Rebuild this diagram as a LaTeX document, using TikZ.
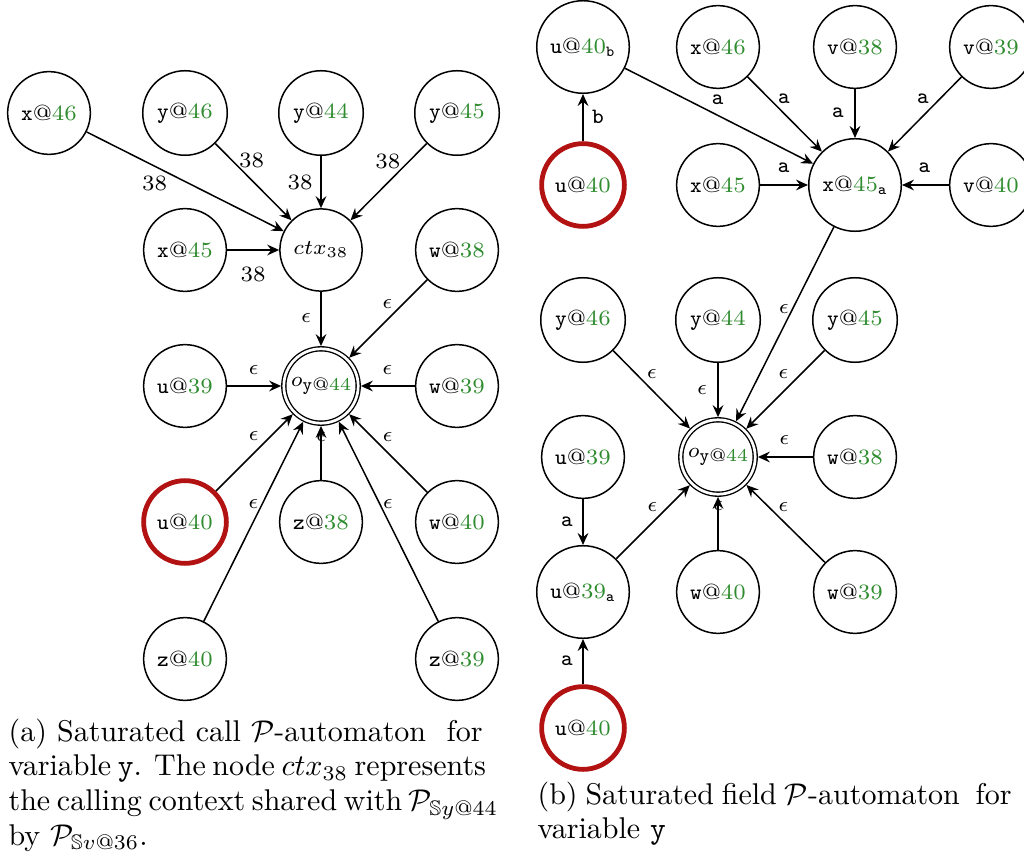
\documentclass[tikz,border=0pt]{standalone}
\usepackage{amsmath,amssymb}
\usetikzlibrary{arrows.meta}
\definecolor{numgreen}{RGB}{46,139,46}
\definecolor{hotred}{RGB}{178,18,18}
\newcommand{\smallfnt}{\fontsize{7.3}{8.8}\selectfont}
\newcommand{\capfnt}{\fontsize{10}{11.6}\selectfont}
\newcommand{\loc}[2]{\texttt{#1}@\textcolor{numgreen}{#2}}
\newcommand{\locsub}[3]{\texttt{#1}@\textcolor{numgreen}{#2}$_{\texttt{#3}}$}
\newcommand{\outnode}{$o$\raisebox{-1.6pt}{\fontsize{6}{7}\selectfont\texttt{y}@\textcolor{numgreen}{44}}}
\newcommand{\capline}[1]{\hbox to 158pt{#1}}
\tikzset{
  st/.style={circle, draw, line width=0.5pt, minimum size=27pt, inner sep=3.2pt, font=\smallfnt},
  hot/.style={st, draw=hotred, line width=1.6pt},
  acc/.style={circle, draw, double, double distance=0.9pt, line width=0.45pt,
              minimum size=24.8pt, inner sep=1pt, outer sep=0.9pt, font=\smallfnt},
  lbl/.style={font=\smallfnt, inner sep=0pt},
  tr/.style={-{Stealth[length=4pt,width=3.6pt,inset=1.4pt]}, line width=0.5pt},
  capt/.style={inner sep=0pt, font=\capfnt, anchor=base west},
}
\begin{document}
\begin{tikzpicture}[x=0.33333pt, y=-0.33333pt]
\useasboundingbox (0,0) rectangle (1024,861);

% ---------- (a) call automaton ----------
\node[st]  (x46L) at (49,113)  {\loc{x}{46}};
\node[st]  (y46L) at (185,113) {\loc{y}{46}};
\node[st]  (y44L) at (321,113) {\loc{y}{44}};
\node[st]  (y45L) at (457,113) {\loc{y}{45}};
\node[st]  (x45L) at (185,250) {\loc{x}{45}};
\node[st]  (ctx)  at (321,250) {$ctx_{38}$};
\node[st]  (w38L) at (457,250) {\loc{w}{38}};
\node[st]  (u39L) at (185,386) {\loc{u}{39}};
\node[acc] (oL)   at (321,386) {\outnode};
\node[st]  (w39L) at (457,386) {\loc{w}{39}};
\node[hot] (u40L) at (185,522) {\loc{u}{40}};
\node[st]  (z38L) at (321,522) {\loc{z}{38}};
\node[st]  (w40L) at (457,522) {\loc{w}{40}};
\node[st]  (z40L) at (185,659) {\loc{z}{40}};
\node[st]  (z39L) at (457,659) {\loc{z}{39}};

\draw[tr] (x46L) -- node[lbl, pos=.38, shift={(-6.9,13.6)}] {38} (ctx);
\draw[tr] (y46L) -- node[lbl, pos=.35, shift={(9.7,-9.7)}] {38} (ctx);
\draw[tr] (y44L) -- node[lbl, pos=.51, shift={(-21,0)}] {38} (ctx);
\draw[tr] (y45L) -- node[lbl, pos=.37, shift={(-10.7,-10.7)}] {38} (ctx);
\draw[tr] (x45L) -- node[lbl, pos=.5, shift={(0,24)}] {38} (ctx);

\draw[tr] (ctx)  -- node[lbl, pos=.49, shift={(-15,0)}] {$\epsilon$} (oL);
\draw[tr] (w38L) -- node[lbl, pos=.41, shift={(-8,-8)}] {$\epsilon$} (oL);
\draw[tr] (u39L) -- node[lbl, pos=.49, shift={(0,-16)}] {$\epsilon$} (oL);
\draw[tr] (w39L) -- node[lbl, pos=.51, shift={(0,-16)}] {$\epsilon$} (oL);
\draw[tr] (u40L) -- node[lbl, pos=.60, shift={(-8.5,-8.5)}] {$\epsilon$} (oL);
\draw[tr] (z40L) -- node[lbl, pos=.57, shift={(-7,-3.5)}] {$\epsilon$} (oL);
\draw[tr] (z38L) -- node[lbl, pos=.79] {$\epsilon$} (oL);
\draw[tr] (w40L) -- node[lbl, pos=.61, shift={(8,-8)}] {$\epsilon$} (oL);
\draw[tr] (z39L) -- node[lbl, pos=.57, shift={(6.2,-3.1)}] {$\epsilon$} (oL);

% ---------- (b) field automaton ----------
\node[st]  (u40b) at (583,47)  {\locsub{u}{40}{b}};
\node[st]  (x46R) at (718,47)  {\loc{x}{46}};
\node[st]  (v38)  at (855,47)  {\loc{v}{38}};
\node[st]  (v39)  at (991,47)  {\loc{v}{39}};
\node[hot] (u40T) at (583,185) {\loc{u}{40}};
\node[st]  (x45R) at (718,185) {\loc{x}{45}};
\node[st]  (x45a) at (855,185) {\locsub{x}{45}{a}};
\node[st]  (v40)  at (991,185) {\loc{v}{40}};
\node[st]  (y46R) at (583,320) {\loc{y}{46}};
\node[st]  (y44R) at (718,320) {\loc{y}{44}};
\node[st]  (y45R) at (855,320) {\loc{y}{45}};
\node[st]  (u39R) at (583,457) {\loc{u}{39}};
\node[acc] (oR)   at (718,457) {\outnode};
\node[st]  (w38R) at (855,457) {\loc{w}{38}};
\node[st]  (u39a) at (583,592) {\locsub{u}{39}{a}};
\node[st]  (w40R) at (718,592) {\loc{w}{40}};
\node[st]  (w39R) at (855,592) {\loc{w}{39}};
\node[hot] (u40B) at (583,728) {\loc{u}{40}};

\draw[tr] (u40T) -- node[lbl, pos=.51, shift={(15,0)}] {\texttt{b}} (u40b);
\draw[tr] (u40b) -- node[lbl, pos=.46, shift={(6.2,-12.3)}] {\texttt{a}} (x45a);
\draw[tr] (x46R) -- node[lbl, pos=.39, shift={(7.3,-7.1)}] {\texttt{a}} (x45a);
\draw[tr] (v38)  -- node[lbl, pos=.48, shift={(-17,0)}] {\texttt{a}} (x45a);
\draw[tr] (v39)  -- node[lbl, pos=.41, shift={(-8.5,-8.3)}] {\texttt{a}} (x45a);
\draw[tr] (x45R) -- node[lbl, pos=.49, shift={(0,-17)}] {\texttt{a}} (x45a);
\draw[tr] (v40)  -- node[lbl, pos=.52, shift={(0,-17)}] {\texttt{a}} (x45a);

\draw[tr] (x45a) -- node[lbl, pos=.44, shift={(-6.8,-3.5)}] {$\epsilon$} (oR);
\draw[tr] (y46R) -- node[lbl, pos=.40, shift={(8,-7.8)}] {$\epsilon$} (oR);
\draw[tr] (y44R) -- node[lbl, pos=.50, shift={(-16,0)}] {$\epsilon$} (oR);
\draw[tr] (y45R) -- node[lbl, pos=.41, shift={(-9.1,-8.8)}] {$\epsilon$} (oR);
\draw[tr] (w38R) -- node[lbl, pos=.52, shift={(0,-17)}] {$\epsilon$} (oR);
\draw[tr] (u39R) -- node[lbl, pos=.50, shift={(-16,0)}] {\texttt{a}} (u39a);
\draw[tr] (u39a) -- node[lbl, pos=.60, shift={(-8,-8)}] {$\epsilon$} (oR);
\draw[tr] (w40R) -- node[lbl, pos=.82] {$\epsilon$} (oR);
\draw[tr] (w39R) -- node[lbl, pos=.62, shift={(7,-7)}] {$\epsilon$} (oR);
\draw[tr] (u40B) -- node[lbl, pos=.52, shift={(-16,0)}] {\texttt{a}} (u39a);

% ---------- captions ----------
\node[capt] (capa) at (8,741) {\vtop{%
  \capline{(a) Saturated call $\mathcal{P}$-automaton~ for}
  \capline{variable \texttt{y}. The node $ctx_{38}$ represents}
  \capline{the calling context shared with $\mathcal{P}_{\mathbb{S}y@44}$}
  \hbox{by $\mathcal{P}_{\mathbb{S}v@36}$.}}};
\node[capt] (capb) at (537,804) {\vtop{%
  \capline{(b) Saturated field $\mathcal{P}$-automaton~ for}
  \hbox{variable \texttt{y}}}};
\end{tikzpicture}
\end{document}
